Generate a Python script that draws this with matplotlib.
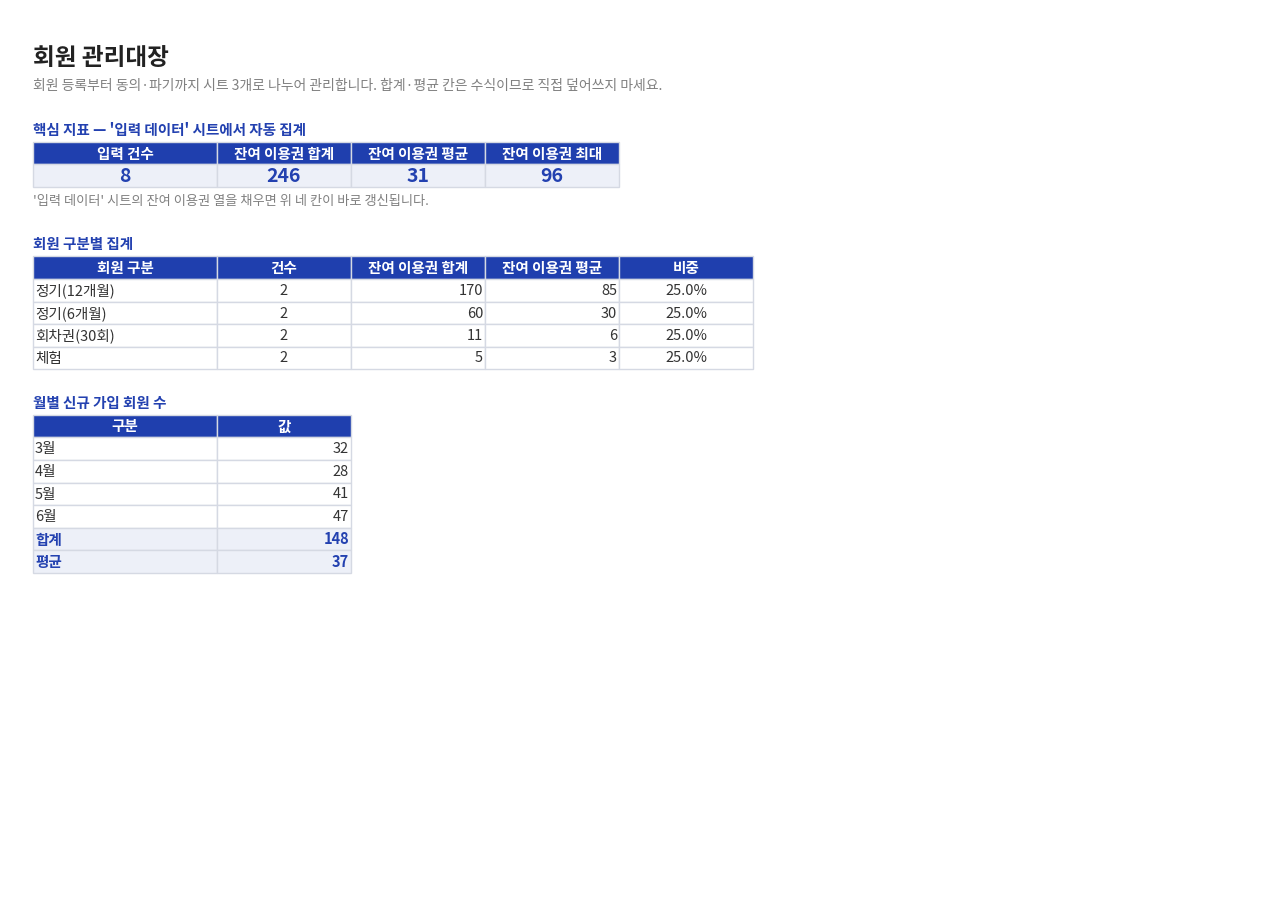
import matplotlib
matplotlib.use("Agg")
import matplotlib.pyplot as plt
from matplotlib.patches import Rectangle

plt.rcParams['font.family'] = ['Noto Sans CJK KR', 'DejaVu Sans']

title = "회원 관리대장"
subtitle = "회원 등록부터 동의·파기까지 시트 3개로 나누어 관리합니다. 합계·평균 칸은 수식이므로 직접 덮어쓰지 마세요."
kpi_title = "핵심 지표 — '입력 데이터' 시트에서 자동 집계"
kpi_labels = ["입력 건수", "잔여 이용권 합계", "잔여 이용권 평균", "잔여 이용권 최대"]
kpi_values = ["8", "246", "31", "96"]
kpi_note = "'입력 데이터' 시트의 잔여 이용권 열을 채우면 위 네 칸이 바로 갱신됩니다."

grp_title = "회원 구분별 집계"
grp_headers = ["회원 구분", "건수", "잔여 이용권 합계", "잔여 이용권 평균", "비중"]
grp_names = ["정기(12개월)", "정기(6개월)", "회차권(30회)", "체험"]
grp_counts = [2, 2, 2, 2]
grp_sums = [170, 60, 11, 5]
grp_avgs = [85, 30, 6, 3]
grp_share = ["25.0%", "25.0%", "25.0%", "25.0%"]

mon_title = "월별 신규 가입 회원 수"
mon_headers = ["구분", "값"]
months = ["3월", "4월", "5월", "6월"]
month_vals = [32, 28, 41, 47]
summary_labels = ["합계", "평균"]
summary_vals = [148, 37]

BLUE = "#1F3FAE"
TBLUE = "#2341B0"
LIGHT = "#EDF0F8"
GRID = "#D5D9E3"
TXT = "#333333"
GREY = "#808080"

fig = plt.figure(figsize=(12.72, 9), dpi=100)
ax = fig.add_axes([0, 0, 1, 1])
ax.set_xlim(0, 1272); ax.set_ylim(900, 0); ax.axis('off')

def cell(x0, x1, y0, y1, fc, text="", color=TXT, ha="center", size=10.5, weight="normal"):
    ax.add_patch(Rectangle((x0, y0), x1 - x0, y1 - y0, facecolor=fc, edgecolor=GRID, lw=1))
    if ha == "center":
        tx = (x0 + x1) / 2
    elif ha == "left":
        tx = x0 + 2
    else:
        tx = x1 - 2
    ax.text(tx, (y0 + y1) / 2 + 0.5, text, ha=ha, va="center", color=color, fontsize=size, fontweight=weight)

ax.text(33, 58, title, fontsize=17, fontweight="bold", color="#222222", va="center")
ax.text(33, 86, subtitle, fontsize=10, color=GREY, va="center")

# KPI
cols1 = [33, 217, 351, 485, 619]
ax.text(33, 130, kpi_title, fontsize=10.5, fontweight="bold", color=TBLUE, va="center")
for i, (lab, val) in enumerate(zip(kpi_labels, kpi_values)):
    cell(cols1[i], cols1[i+1], 142, 164, BLUE, lab, "white", size=10.5, weight="bold")
    cell(cols1[i], cols1[i+1], 164, 187, LIGHT, val, TBLUE, size=14, weight="bold")
ax.text(33, 201, kpi_note, fontsize=9.5, color=GREY, va="center")

# group table
cols2 = [33, 217, 351, 485, 619, 753]
rows2 = [279, 302, 324, 347, 369]
ax.text(33, 244, grp_title, fontsize=10.5, fontweight="bold", color=TBLUE, va="center")
for i, h in enumerate(grp_headers):
    cell(cols2[i], cols2[i+1], 256, 279, BLUE, h, "white", weight="bold")
for r in range(len(grp_names)):
    y0, y1 = rows2[r], rows2[r+1]
    cell(cols2[0], cols2[1], y0, y1, "white", grp_names[r], ha="left")
    cell(cols2[1], cols2[2], y0, y1, "white", str(grp_counts[r]))
    cell(cols2[2], cols2[3], y0, y1, "white", str(grp_sums[r]), ha="right")
    cell(cols2[3], cols2[4], y0, y1, "white", str(grp_avgs[r]), ha="right")
    cell(cols2[4], cols2[5], y0, y1, "white", grp_share[r])

# monthly table
cols3 = [33, 217, 351]
rows3 = [437, 460, 483, 505, 528, 550, 573]
ax.text(33, 403, mon_title, fontsize=10.5, fontweight="bold", color=TBLUE, va="center")
for i, h in enumerate(mon_headers):
    cell(cols3[i], cols3[i+1], 415, 437, BLUE, h, "white", weight="bold")
for r in range(len(months)):
    y0, y1 = rows3[r], rows3[r+1]
    cell(cols3[0], cols3[1], y0, y1, "white", months[r], ha="left")
    cell(cols3[1], cols3[2], y0, y1, "white", str(month_vals[r]), ha="right")
for k in range(len(summary_labels)):
    r = len(months) + k
    y0, y1 = rows3[r], rows3[r+1]
    cell(cols3[0], cols3[1], y0, y1, LIGHT, summary_labels[k], TBLUE, ha="left", weight="bold")
    cell(cols3[1], cols3[2], y0, y1, LIGHT, str(summary_vals[k]), TBLUE, ha="right", weight="bold")

fig.savefig("out.png", dpi=100, facecolor="white")
